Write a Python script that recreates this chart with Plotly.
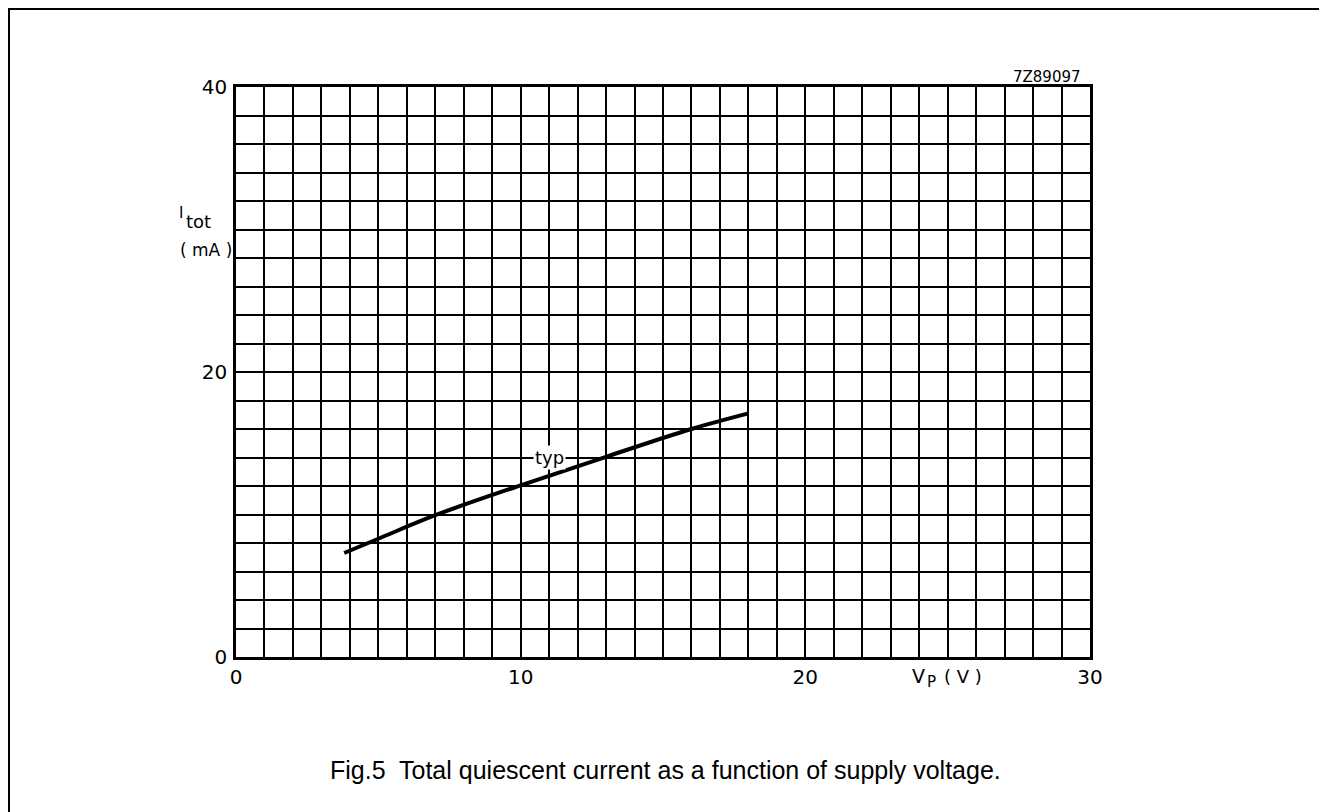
import plotly.graph_objects as go

# Data
vp = [3.8, 5, 7, 10, 13, 16, 18]
itot = [7.3, 8.3, 9.95, 12.05, 14.05, 16.0, 17.1]

x_grid = list(range(0, 31))
x_labels = [str(v) if v % 10 == 0 else "" for v in x_grid]
y_grid = list(range(0, 41, 2))
y_labels = [str(v) if v % 20 == 0 else "" for v in y_grid]

W, H = 1327, 812
OFF = 8                      # page body margin
L, R, T, B = 236, 1090, 87, 657   # plot area in page pixels

fig = go.Figure()
fig.add_trace(go.Scatter(x=vp, y=itot, mode="lines",
                         line=dict(color="black", width=4, shape="spline", smoothing=1.0),
                         hoverinfo="skip", showlegend=False))

tickfont = dict(family="DejaVu Sans, Verdana, sans-serif", color="black", size=20)
wide = "DejaVu Sans, Verdana, sans-serif"
arial = "Liberation Sans, Arial, sans-serif"

fig.update_layout(
    width=W, height=H,
    margin=dict(l=L - OFF, r=W - (R - OFF), t=T - OFF, b=H - (B - OFF), pad=0),
    paper_bgcolor="white", plot_bgcolor="white",
    showlegend=False,
    xaxis=dict(range=[0, 30], tickmode="array", tickvals=x_grid, ticktext=x_labels,
               showgrid=True, gridcolor="black", gridwidth=1.5, zeroline=False,
               showline=True, linecolor="black", linewidth=2.5, mirror=True,
               ticks="", tickfont=tickfont, fixedrange=True),
    yaxis=dict(range=[0, 40], tickmode="array", tickvals=y_grid, ticktext=y_labels,
               showgrid=True, gridcolor="black", gridwidth=1.5, zeroline=False,
               showline=True, linecolor="black", linewidth=2.5, mirror=True,
               ticks="", tickfont=tickfont, ticklabelstandoff=2, fixedrange=True),
)

def px_x(p):
    return (p - L) / (R - L)

def px_y(p):
    return (B - p) / (B - T)

def note(text, x, y, size, family=wide, xanchor="center"):
    return dict(x=px_x(x), y=px_y(y), xref="paper", yref="paper", text=text,
                showarrow=False, xanchor=xanchor, yanchor="middle",
                font=dict(size=size, family=family, color="black"))

annotations = [
    dict(x=11, y=14, xref="x", yref="y", text="typ", showarrow=False,
         font=dict(size=18, family=wide, color="black"), bgcolor="white", borderpad=1),
    note("I", 181, 213, 15),
    note("tot", 198, 222, 18),
    note("( mA )", 206, 250, 17),
    note("V", 918, 676, 19),
    note("P", 931, 682, 15),
    note("( V )", 963, 676, 18),
    note("7Z89097", 1083, 77, 15, xanchor="right"),
    note("Fig.5  Total quiescent current as a function of supply voltage.", 665, 770, 25, family=arial),
]
fig.update_layout(annotations=annotations)

# outer frame (left, top, right edges)
frame = dict(type="path", xref="paper", yref="paper",
             path=f"M {px_x(9)} {px_y(830)} L {px_x(9)} {px_y(9)} L {px_x(1325)} {px_y(9)} L {px_x(1325)} {px_y(830)}",
             line=dict(color="black", width=2))
fig.update_layout(shapes=[frame])

fig.write_html("out.html")
